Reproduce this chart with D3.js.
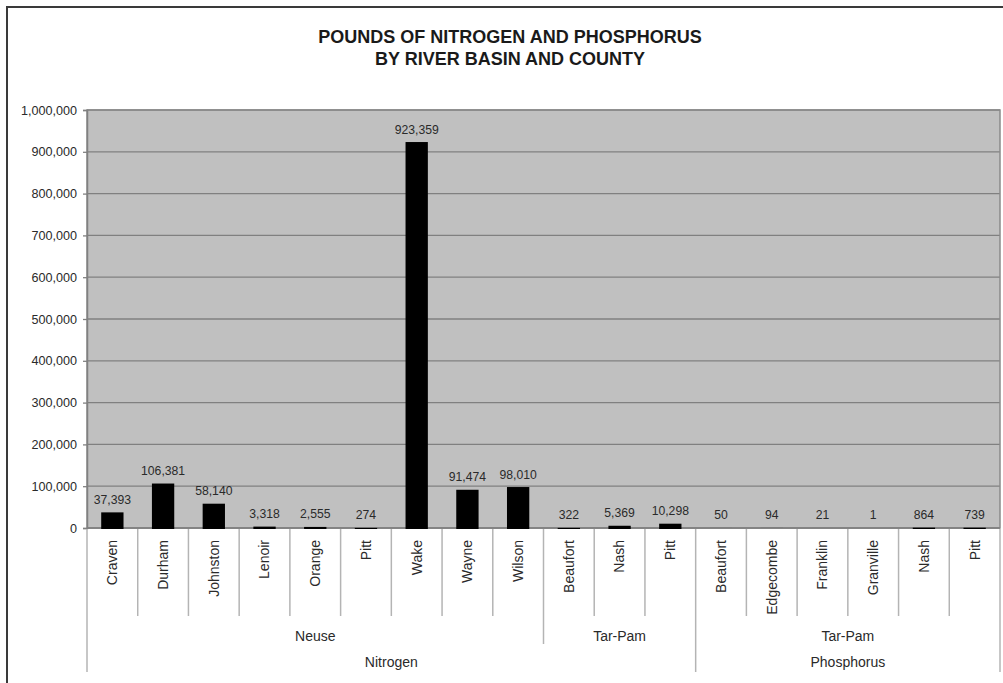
<!DOCTYPE html>
<html>
<head>
<meta charset="utf-8">
<script src="https://cdn.jsdelivr.net/npm/d3@7"></script>
<style>
  html, body { margin: 0; padding: 0; background: #fff; }
  svg { display: block; font-family: "Liberation Sans", Arial, sans-serif; }
</style>
</head>
<body>
<svg id="chart" width="1003" height="683"></svg>
<script>
// Pounds of nitrogen and phosphorus, grouped by nutrient > river basin > county
const nutrients = ["Nitrogen","Nitrogen","Nitrogen","Nitrogen","Nitrogen","Nitrogen","Nitrogen","Nitrogen","Nitrogen",
                   "Nitrogen","Nitrogen","Nitrogen",
                   "Phosphorus","Phosphorus","Phosphorus","Phosphorus","Phosphorus","Phosphorus"];
const basins = ["Neuse","Neuse","Neuse","Neuse","Neuse","Neuse","Neuse","Neuse","Neuse",
                "Tar-Pam","Tar-Pam","Tar-Pam",
                "Tar-Pam","Tar-Pam","Tar-Pam","Tar-Pam","Tar-Pam","Tar-Pam"];
const counties = ["Craven","Durham","Johnston","Lenoir","Orange","Pitt","Wake","Wayne","Wilson",
                  "Beaufort","Nash","Pitt",
                  "Beaufort","Edgecombe","Franklin","Granville","Nash","Pitt"];
const pounds = [37393, 106381, 58140, 3318, 2555, 274, 923359, 91474, 98010,
                322, 5369, 10298,
                50, 94, 21, 1, 864, 739];
const yTicks = [0, 100000, 200000, 300000, 400000, 500000, 600000, 700000, 800000, 900000, 1000000];
const titleLines = ["POUNDS OF NITROGEN AND PHOSPHORUS", "BY RIVER BASIN AND COUNTY"];

const svg = d3.select("#chart");
const plot = { left: 87, right: 1000, top: 110, bottom: 528 };
const idx = d3.range(counties.length);

const x = d3.scaleBand().domain(idx).range([plot.left, plot.right]).paddingInner(0).paddingOuter(0);
const y = d3.scaleLinear().domain([0, 1000000]).range([plot.bottom, plot.top]);
const fmt = d3.format(",");

// outer frame
svg.append("rect")
  .attr("x", 7).attr("y", 7).attr("width", 1020).attr("height", 700)
  .attr("fill", "none").attr("stroke", "#3a3a3a").attr("stroke-width", 2);

// title
svg.append("g").selectAll("text").data(titleLines).join("text")
  .attr("x", 510).attr("y", (d, i) => 43 + i * 22)
  .attr("text-anchor", "middle")
  .attr("font-size", 18).attr("font-weight", "bold").attr("fill", "#1a1a1a")
  .text(d => d);

// plot background
svg.append("rect")
  .attr("x", plot.left).attr("y", plot.top)
  .attr("width", plot.right - plot.left).attr("height", plot.bottom - plot.top)
  .attr("fill", "#c0c0c0");

// gridlines
svg.append("g").selectAll("line").data(yTicks).join("line")
  .attr("x1", plot.left).attr("x2", plot.right)
  .attr("y1", d => y(d)).attr("y2", d => y(d))
  .attr("stroke", "#808080").attr("stroke-width", 1.3);

// plot border
svg.append("rect")
  .attr("x", plot.left).attr("y", plot.top)
  .attr("width", plot.right - plot.left).attr("height", plot.bottom - plot.top)
  .attr("fill", "none").attr("stroke", "#8a8a8a").attr("stroke-width", 1.5);

// y axis
const yAxis = svg.append("g")
  .attr("transform", `translate(${plot.left},0)`)
  .call(d3.axisLeft(y).tickValues(yTicks).tickFormat(fmt).tickSize(4).tickPadding(6));
yAxis.select(".domain").attr("stroke", "#808080").attr("stroke-width", 1.5);
yAxis.selectAll(".tick line").attr("stroke", "#808080").attr("stroke-width", 1.3);
yAxis.selectAll(".tick text")
  .attr("font-size", 12.6).attr("fill", "#2a2a2a")
  .attr("font-family", "'Liberation Sans', Arial, sans-serif");

// x axis baseline
svg.append("line")
  .attr("x1", plot.left).attr("x2", plot.right)
  .attr("y1", plot.bottom).attr("y2", plot.bottom)
  .attr("stroke", "#808080").attr("stroke-width", 1.5);

// bars: top sits exactly at the value; bars of a few hundred pounds and up
// also cover the baseline so that small values still read as a hairline
const barW = x.bandwidth() * 0.44;
const overlap = v => (v >= 200 ? 1 : 0);
svg.append("g").selectAll("rect").data(idx).join("rect")
  .attr("x", i => x(i) + (x.bandwidth() - barW) / 2)
  .attr("y", i => y(pounds[i]))
  .attr("width", barW)
  .attr("height", i => y(0) - y(pounds[i]) + overlap(pounds[i]))
  .attr("fill", "#000");

// value labels
svg.append("g").selectAll("text").data(idx).join("text")
  .attr("x", i => x(i) + x.bandwidth() / 2)
  .attr("y", i => y(pounds[i]) - 8.5)
  .attr("text-anchor", "middle")
  .attr("font-size", 12.2).attr("fill", "#2a2a2a")
  .text(i => fmt(pounds[i]));

// multi-level category axis
const sepColor = "#b4b4b4";
const level1Bottom = 616, level2Bottom = 644, level3Bottom = 672;
const boundaries = d3.range(counties.length + 1);
const sepG = svg.append("g").attr("stroke", sepColor).attr("stroke-width", 1.5);
sepG.selectAll("line").data(boundaries).join("line")
  .attr("x1", b => b === counties.length ? plot.right : x(b))
  .attr("x2", b => b === counties.length ? plot.right : x(b))
  .attr("y1", plot.bottom + 1)
  .attr("y2", b => {
    if (b === 0 || b === counties.length) return level3Bottom;
    if (nutrients[b] !== nutrients[b - 1]) return level3Bottom;
    if (basins[b] !== basins[b - 1]) return level2Bottom;
    return level1Bottom;
  });

// county labels (rotated)
svg.append("g").selectAll("text").data(idx).join("text")
  .attr("transform", i => `translate(${x(i) + x.bandwidth() / 2},540) rotate(-90)`)
  .attr("text-anchor", "end").attr("dy", "0.35em")
  .attr("font-size", 14).attr("fill", "#2a2a2a")
  .text(i => counties[i]);

// grouping helper: contiguous runs of a key
function runs(keyFn) {
  const out = [];
  idx.forEach(i => {
    const k = keyFn(i);
    const last = out[out.length - 1];
    if (last && last.key === k) last.end = i; else out.push({ key: k, start: i, end: i });
  });
  return out;
}
const basinRuns = runs(i => nutrients[i] + "|" + basins[i]);
const nutrientRuns = runs(i => nutrients[i]);
const midX = r => (x(r.start) + x(r.end) + x.bandwidth()) / 2;

svg.append("g").selectAll("text").data(basinRuns).join("text")
  .attr("x", midX).attr("y", 641)
  .attr("text-anchor", "middle").attr("font-size", 14).attr("fill", "#2a2a2a")
  .text(r => r.key.split("|")[1]);

svg.append("g").selectAll("text").data(nutrientRuns).join("text")
  .attr("x", midX).attr("y", 667)
  .attr("text-anchor", "middle").attr("font-size", 14).attr("fill", "#2a2a2a")
  .text(r => r.key);
</script>
</body>
</html>
